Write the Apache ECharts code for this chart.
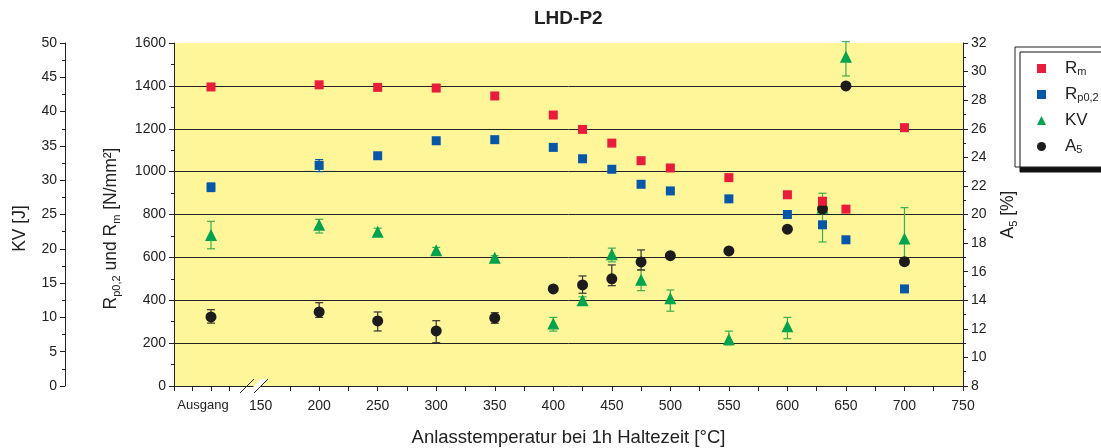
<!DOCTYPE html>
<html>
<head>
<meta charset="utf-8">
<script src="https://cdn.jsdelivr.net/npm/echarts@6/dist/echarts.min.js"></script>
<style>
html, body { margin: 0; padding: 0; background: #fff; overflow: hidden; }
#myChart { width: 1101px; height: 448px; }
</style>
</head>
<body>
<div id="myChart"></div>
<script>
// Anlasstemperatur (Ausgang = Ausgangszustand, sitzt links vom Achsenbruch)
const temps = ['Ausgang', 200, 250, 300, 350, 400, 425, 450, 475, 500, 550, 600, 630, 650, 700];
const AUSGANG_X = 107.6;

// Festigkeit [N/mm²]
const rm   = [1395, 1405, 1393, 1390, 1353, 1264, 1197, 1133, 1051, 1017, 972, 892, 862, 825, 1205];
const rp   = [927, 1029, 1074, 1144, 1149, 1113, 1060, 1011, 941, 910, 873, 800, 752, 682, 453];
const rpLo = [907, 1000, null, null, null, null, null, null, null, null, null, null, null, null, null];
const rpHi = [947, 1056, null, null, null, null, null, null, null, null, null, null, null, null, null];

// Kerbschlagarbeit KV [J]
const kv   = [22, 23.5, 22.5, 19.8, 18.7, 9.1, 12.5, 19.2, 15.5, 12.8, 6.8, 8.7, 26, 48, 21.5];
const kvLo = [20, 22.3, 22, 19.5, 18.4, 8, 12, 18.1, 13.9, 10.9, 6, 6.9, 21, 45.2, 17.7];
const kvHi = [24, 24.3, 23, 20.2, 19, 10, 13, 20.1, 16.9, 14, 8, 10, 28.1, 50.2, 26];

// Bruchdehnung A5 [%]
const a5   = [12.83, 13.18, 12.55, 11.85, 12.76, 14.79, 15.07, 15.5, 16.68, 17.12, 17.45, 18.97, 20.39, 29.0, 16.7];
const a5Lo = [12.4, 12.8, 11.85, 11.03, 12.39, null, 14.49, 15.02, 16.12, null, null, null, null, null, 16.5];
const a5Hi = [13.34, 13.83, 13.18, 12.57, 13.13, null, 15.7, 16.47, 17.52, null, null, null, null, null, 16.9];

const xTicks = [150, 200, 250, 300, 350, 400, 450, 500, 550, 600, 650, 700, 750];

const xPos = t => (t === 'Ausgang' ? AUSGANG_X : t);
const pts = vals => temps.map((t, i) => [xPos(t), vals[i]]);
const errPts = (lo, hi) => temps.map((t, i) => [xPos(t), lo[i], hi[i]]).filter(d => d[1] != null);

const RED = '#ea1c3c', BLUE = '#0657a8', GREEN = '#00a44f', BLACK = '#1c1c1c';
const FONT = 'Liberation Sans, Arial, sans-serif';

function errorBar(color) {
  return function (params, api) {
    const x = api.value(0);
    const lo = api.coord([x, api.value(1)]);
    const hi = api.coord([x, api.value(2)]);
    const cap = 4;
    const style = { stroke: color, lineWidth: 1.2 };
    return {
      type: 'group',
      children: [
        { type: 'line', shape: { x1: lo[0], y1: lo[1], x2: hi[0], y2: hi[1] }, style },
        { type: 'line', shape: { x1: lo[0] - cap, y1: lo[1], x2: lo[0] + cap, y2: lo[1] }, style },
        { type: 'line', shape: { x1: hi[0] - cap, y1: hi[1], x2: hi[0] + cap, y2: hi[1] }, style }
      ]
    };
  };
}

let tickVals = [76, 91.5, AUSGANG_X, 123];
for (let v = 175; v <= 750; v += 25) tickVals.push(v);

const axisText = { color: '#222', fontSize: 14, fontFamily: FONT, formatter: v => String(v) };
const nameRich = {
  n: { fontSize: 17.5, fontFamily: FONT, color: '#222', lineHeight: 22 },
  s: { fontSize: 11, fontFamily: FONT, color: '#222', lineHeight: 10, verticalAlign: 'bottom' }
};

let myChart = echarts.init(document.getElementById('myChart'));

let option = {
  animation: false,
  title: {
    text: 'LHD-P2',
    left: 529,
    top: 4,
    textStyle: { fontSize: 19, fontWeight: 'bold', color: '#222', fontFamily: FONT }
  },
  grid: {
    left: 174, right: 138, top: 43, bottom: 62,
    outerBoundsMode: 'none',
    show: true, backgroundColor: '#fff599', borderWidth: 0
  },
  legend: {
    orient: 'vertical',
    left: 1015, top: 47,
    padding: [13, 40, 12, 22],
    itemGap: 9,
    itemWidth: 9, itemHeight: 9,
    backgroundColor: '#fff',
    borderColor: '#222', borderWidth: 1,
    shadowColor: '#111', shadowBlur: 0, shadowOffsetX: 5, shadowOffsetY: 5,
    data: ['Rm', 'Rp0,2', 'KV', 'A5'],
    formatter: function (name) {
      return { 'Rm': '{n|R}{s|m}', 'Rp0,2': '{n|R}{s|p0,2}', 'KV': '{n|KV}', 'A5': '{n|A}{s|5}' }[name];
    },
    textStyle: {
      padding: [0, 0, 0, 14],
      rich: {
        n: { fontSize: 17, fontFamily: FONT, color: '#222', lineHeight: 17 },
        s: { fontSize: 11, fontFamily: FONT, color: '#222', lineHeight: 8, verticalAlign: 'bottom' }
      }
    }
  },
  xAxis: {
    type: 'value',
    min: 76, max: 750,
    name: 'Anlasstemperatur bei 1h Haltezeit [°C]',
    nameLocation: 'middle',
    nameGap: 42,
    nameTextStyle: { fontSize: 18.5, color: '#222', fontFamily: FONT },
    axisLine: { show: true, onZero: false, lineStyle: { color: '#222' } },
    axisTick: { show: true, customValues: tickVals, length: 5, lineStyle: { color: '#222' } },
    axisLabel: {
      ...axisText,
      margin: 13,
      customValues: [AUSGANG_X].concat(xTicks),
      formatter: v => (v < 120 ? '{a|Ausgang}' : String(v)),
      rich: { a: { fontSize: 13, fontFamily: FONT, color: '#222', padding: [0, 16, 0, 0] } }
    },
    splitLine: { show: false }
  },
  yAxis: [
    {
      type: 'value', min: 0, max: 1600, interval: 200,
      position: 'left',
      name: '{n|R}{s|p0,2}{n| und R}{s|m}{n| [N/mm²]}',
      nameLocation: 'middle', nameGap: 52,
      nameTextStyle: { rich: nameRich, padding: [0, 28, 0, 0] },
      axisLine: { show: true, lineStyle: { color: '#222' } },
      axisTick: { show: true, length: 5, lineStyle: { color: '#222' } },
      minorTick: { show: true, splitNumber: 2, length: 3, lineStyle: { color: '#222' } },
      axisLabel: axisText,
      splitLine: { show: true, showMinLine: false, showMaxLine: false, lineStyle: { color: '#222', width: 1 } }
    },
    {
      type: 'value', min: 0, max: 50, interval: 5,
      position: 'left', offset: 109,
      name: 'KV [J]',
      nameLocation: 'middle', nameGap: 36,
      nameTextStyle: { fontSize: 17.5, color: '#222', fontFamily: FONT, padding: [0, 28, 0, 0] },
      axisLine: { show: true, lineStyle: { color: '#222' } },
      axisTick: { show: true, length: 5, lineStyle: { color: '#222' } },
      minorTick: { show: true, splitNumber: 2, length: 3, lineStyle: { color: '#222' } },
      axisLabel: axisText,
      splitLine: { show: false }
    },
    {
      type: 'value', min: 8, max: 32, interval: 2,
      position: 'right',
      name: '{n|A}{s|5}{n| [%]}',
      nameLocation: 'middle', nameGap: 34,
      nameRotate: 90,
      nameTextStyle: { rich: nameRich },
      axisLine: { show: true, lineStyle: { color: '#222' } },
      axisTick: { show: true, length: 5, lineStyle: { color: '#222' } },
      minorTick: { show: true, splitNumber: 2, length: 3, lineStyle: { color: '#222' } },
      axisLabel: axisText,
      splitLine: { show: false }
    }
  ],
  graphic: [
    { type: 'polygon', z: 100, shape: { points: [[247, 393], [261, 379], [268, 379], [254, 393]] }, style: { fill: '#fff' } },
    { type: 'line', z: 101, shape: { x1: 240, y1: 393, x2: 254, y2: 379 }, style: { stroke: '#222', lineWidth: 1 } },
    { type: 'line', z: 101, shape: { x1: 254, y1: 393, x2: 268, y2: 379 }, style: { stroke: '#222', lineWidth: 1 } }
  ],
  series: [
    {
      name: 'KV-err', type: 'custom', yAxisIndex: 1, z: 2,
      renderItem: errorBar('#3bb04f'), data: errPts(kvLo, kvHi), silent: true
    },
    {
      name: 'KV', type: 'scatter', yAxisIndex: 1, z: 3,
      symbol: 'triangle', symbolSize: 12,
      itemStyle: { color: GREEN, opacity: 1 },
      data: pts(kv)
    },
    {
      name: 'A5-err', type: 'custom', yAxisIndex: 2, z: 4,
      renderItem: errorBar('#333'), data: errPts(a5Lo, a5Hi), silent: true
    },
    {
      name: 'A5', type: 'scatter', yAxisIndex: 2, z: 5,
      symbol: 'circle', symbolSize: 11,
      itemStyle: { color: BLACK, opacity: 1 },
      data: pts(a5)
    },
    {
      name: 'Rp-err', type: 'custom', yAxisIndex: 0, z: 6,
      renderItem: errorBar(BLUE), data: errPts(rpLo, rpHi), silent: true
    },
    {
      name: 'Rp0,2', type: 'scatter', yAxisIndex: 0, z: 7,
      symbol: 'rect', symbolSize: 9,
      itemStyle: { color: BLUE, opacity: 1 },
      data: pts(rp)
    },
    {
      name: 'Rm', type: 'scatter', yAxisIndex: 0, z: 8,
      symbol: 'rect', symbolSize: 9,
      itemStyle: { color: RED, opacity: 1 },
      data: pts(rm)
    }
  ]
};

myChart.setOption(option);
</script>
</body>
</html>
